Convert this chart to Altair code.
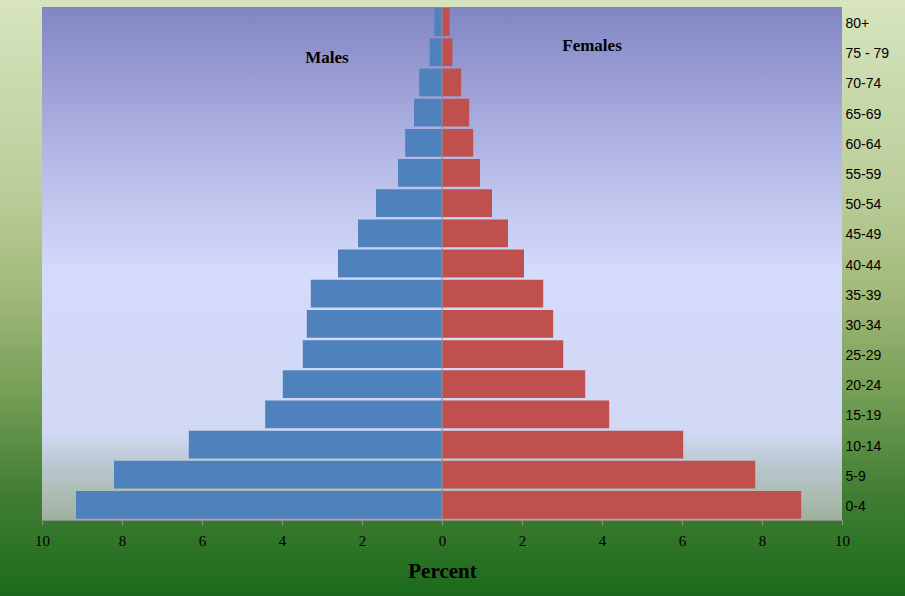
import altair as alt
import pandas as pd

ages = ["0-4", "5-9", "10-14", "15-19", "20-24", "25-29", "30-34", "35-39",
        "40-44", "45-49", "50-54", "55-59", "60-64", "65-69", "70-74", "75 - 79", "80+"]
males = [9.15, 8.2, 6.33, 4.42, 3.98, 3.48, 3.38, 3.28, 2.6, 2.1, 1.65, 1.1, 0.92, 0.7, 0.57, 0.31, 0.19]
females = [8.98, 7.83, 6.03, 4.18, 3.58, 3.03, 2.78, 2.53, 2.05, 1.65, 1.25, 0.95, 0.78, 0.68, 0.48, 0.26, 0.19]

rows = []
for a, m, f in zip(ages, males, females):
    rows.append({"age": a, "sex": "Males", "value": -m})
    rows.append({"age": a, "sex": "Females", "value": f})
df = pd.DataFrame(rows)

W, H = 800, 513
PAD = {"left": 42, "top": 7, "right": 63, "bottom": 76}

one = alt.Data(values=[{}])

outer_bg = alt.Chart(one).mark_rect(
    fill=alt.LinearGradient(
        gradient="linear", x1=0, x2=0, y1=0, y2=1,
        stops=[
            alt.GradientStop(offset=0, color="#d7e4be"),
            alt.GradientStop(offset=0.33, color="#b9cd98"),
            alt.GradientStop(offset=0.5, color="#a0b878"),
            alt.GradientStop(offset=0.67, color="#729c54"),
            alt.GradientStop(offset=0.82, color="#437f34"),
            alt.GradientStop(offset=1, color="#1b6a1b"),
        ],
    )
).encode(x=alt.value(-PAD["left"]), x2=alt.value(W + PAD["right"]),
         y=alt.value(-PAD["top"]), y2=alt.value(H + PAD["bottom"]))

plot_bg = alt.Chart(one).mark_rect(
    fill=alt.LinearGradient(
        gradient="linear", x1=0, x2=0, y1=0, y2=1,
        stops=[
            alt.GradientStop(offset=0, color="#8185c3"),
            alt.GradientStop(offset=0.3, color="#b5b9e6"),
            alt.GradientStop(offset=0.52, color="#d4dbfb"),
            alt.GradientStop(offset=0.83, color="#d0d8f4"),
            alt.GradientStop(offset=0.9, color="#b8c6cc"),
            alt.GradientStop(offset=1, color="#9fb29c"),
        ],
    )
).encode(x=alt.value(0), x2=alt.value(W), y=alt.value(0), y2=alt.value(H))

order_top = list(reversed(ages))

bars = alt.Chart(df).mark_bar().encode(
    x=alt.X("value:Q",
            scale=alt.Scale(domain=[-10, 10], nice=False),
            axis=alt.Axis(values=list(range(-10, 11, 2)), labelExpr="abs(datum.value)",
                          grid=False, domainColor="#8f8f8f", tickColor="#8f8f8f",
                          tickSize=5, labelPadding=8, labelFont="Liberation Serif",
                          labelFontSize=15, labelColor="#000000", zindex=2,
                          labelFlush=False,
                          title="Percent", titleFont="Liberation Serif", titleFontSize=21,
                          titleFontWeight="bold", titleColor="#000000", titlePadding=12)),
    y=alt.Y("age:N", sort=order_top,
            scale=alt.Scale(paddingInner=0.08, paddingOuter=0.04),
            axis=alt.Axis(orient="right", domain=False, ticks=False, title=None,
                          labelFont="Liberation Sans", labelFontSize=14, zindex=2,
                          labelColor="#000000", labelPadding=3, labelOffset=2)),
    color=alt.Color("sex:N", scale=alt.Scale(domain=["Males", "Females"],
                                             range=["#4f81bd", "#c0504d"]), legend=None),
)

center = alt.Chart(one).mark_rule(color="#8f8f8f", strokeWidth=1).encode(
    x=alt.datum(0), y=alt.value(0), y2=alt.value(H))

lab_m = alt.Chart(one).mark_text(text="Males", font="Liberation Serif", fontSize=17,
                                 fontWeight="bold", color="#000000", align="center",
                                 baseline="alphabetic").encode(
    x=alt.value(285), y=alt.value(56))
lab_f = alt.Chart(one).mark_text(text="Females", font="Liberation Serif", fontSize=17,
                                 fontWeight="bold", color="#000000", align="center",
                                 baseline="alphabetic").encode(
    x=alt.value(550), y=alt.value(44))

chart = alt.layer(outer_bg, plot_bg, bars, center, lab_m, lab_f).properties(
    width=W, height=H,
    autosize=alt.AutoSizeParams(type="none"),
    padding=PAD,
    background="#1b6a1b",
).configure_view(stroke=None)

chart.save("out.html", embed_options={"renderer": "svg", "actions": False})
